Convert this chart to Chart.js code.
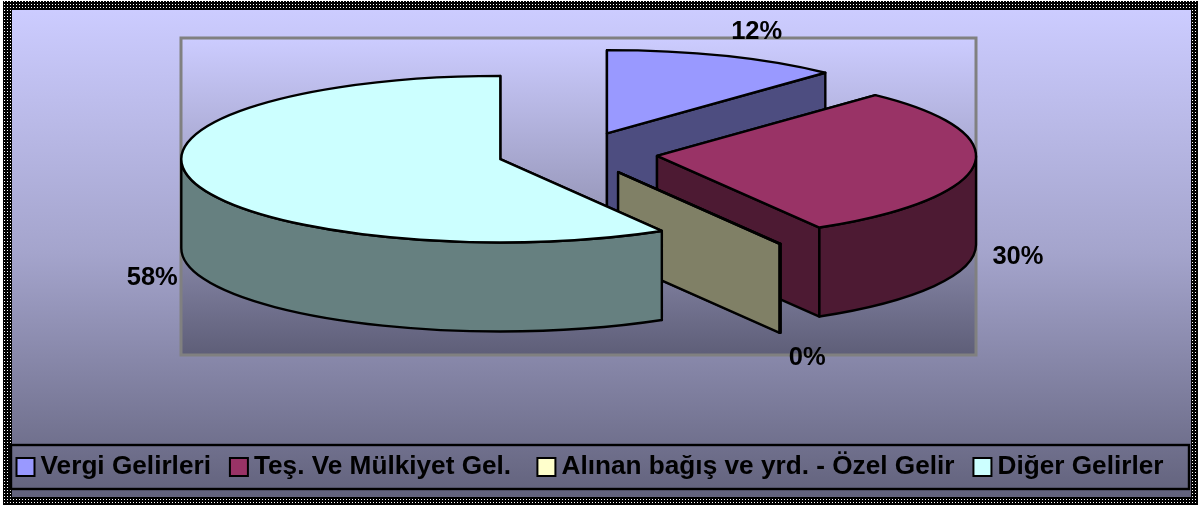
<!DOCTYPE html>
<html>
<head>
<meta charset="utf-8">
<title>Gelirler</title>
<style>
  html, body { margin: 0; padding: 0; background: #fff; }
  canvas { display: block; }
</style>
<script src="https://cdn.jsdelivr.net/npm/chart.js@4/dist/chart.umd.min.js"></script>
</head>
<body>
<canvas id="myChart" width="1198" height="506"></canvas>
<script>
const categories = ["Vergi Gelirleri", "Teş. Ve Mülkiyet Gel. ", "Alınan bağış ve yrd. - Özel Gelir", "Diğer Gelirler"];
const shares = [12, 29.5, 0.05, 58.45];
const sliceColors = ["#9999ff", "#993366", "#ffffcc", "#ccffff"];
const wallColors = ["#4d4d80", "#4d1a33", "#808066", "#668080"];
const labelNudge = [[5, 3], [-1, 0], [-5, 0], [4, 0]];

const TILT = 0.261; // squash of the pie, 3d look
const OFFSET_TILT = 0.27;
const DEPTH = 89;
const FONT = "bold 25.5px 'Liberation Sans', Arial, sans-serif";

// black frame with white dots
function framePattern(ctx) {
  const tile = document.createElement("canvas");
  tile.width = 3;
  tile.height = 3;
  const t = tile.getContext("2d");
  t.fillStyle = "#000";
  t.fillRect(0, 0, 3, 3);
  t.fillStyle = "#fff";
  t.fillRect(1, 1, 1, 1);
  return ctx.createPattern(tile, "repeat");
}

function fade(ctx, top, bottom, stops) {
  const g = ctx.createLinearGradient(0, top, 0, bottom);
  stops.forEach((s) => g.addColorStop(s[0], s[1]));
  return g;
}

function drawSlice(ctx, arc, index) {
  const a0 = arc.startAngle, a1 = arc.endAngle, r = arc.outerRadius;
  const mid = (a0 + a1) / 2;
  const cx = arc.x + Math.cos(mid) * arc.options.offset;
  const cy = arc.y - DEPTH / 2 + Math.sin(mid) * arc.options.offset * OFFSET_TILT;
  const rimX = (a) => cx + Math.cos(a) * r;
  const rimY = (a) => cy + Math.sin(a) * r * TILT;

  ctx.lineWidth = 2.4;
  ctx.lineJoin = "round";
  ctx.strokeStyle = arc.options.borderColor;

  // cut faces
  ctx.fillStyle = wallColors[index];
  [a0, a1].forEach((a) => {
    ctx.beginPath();
    ctx.moveTo(cx, cy);
    ctx.lineTo(rimX(a), rimY(a));
    ctx.lineTo(rimX(a), rimY(a) + DEPTH);
    ctx.lineTo(cx, cy + DEPTH);
    ctx.closePath();
    ctx.fill();
    ctx.stroke();
  });

  // outer wall, only the part facing us
  const from = Math.max(a0, 0), to = Math.min(a1, Math.PI);
  if (to > from) {
    ctx.beginPath();
    ctx.ellipse(cx, cy, r, r * TILT, 0, from, to);
    ctx.lineTo(rimX(to), rimY(to) + DEPTH);
    ctx.ellipse(cx, cy + DEPTH, r, r * TILT, 0, to, from, true);
    ctx.closePath();
    ctx.fill();
    ctx.stroke();
  }

  // top face
  ctx.fillStyle = arc.options.backgroundColor;
  ctx.beginPath();
  ctx.moveTo(cx, cy);
  ctx.ellipse(cx, cy, r, r * TILT, 0, a0, a1);
  ctx.closePath();
  ctx.fill();
  ctx.stroke();
}

const pie3d = {
  id: "pie3d",
  afterLayout(chart) {
    // the pie sits in the grey box, not in the space left by the legend
    chart.chartArea = { left: 179, right: 976, top: 41, bottom: 355, width: 797, height: 314 };
  },
  beforeDraw(chart) {
    const ctx = chart.ctx;
    ctx.save();
    ctx.fillStyle = "#fff";
    ctx.fillRect(0, 0, chart.width, chart.height);
    ctx.fillStyle = framePattern(ctx);
    ctx.fillRect(3, 1, 1195, 504);
    ctx.fillStyle = fade(ctx, 10, 497, [[0, "#ccccff"], [0.5, "#a4a4cc"], [1, "#62627c"]]);
    ctx.fillRect(12, 10, 1179, 487);

    // plot box
    ctx.fillStyle = fade(ctx, 38, 355, [[0, "#ccccff"], [0.5, "#9c9cc0"], [1, "#5e5e78"]]);
    ctx.fillRect(181, 38, 795, 317);
    ctx.strokeStyle = "#808080";
    ctx.lineWidth = 3;
    ctx.strokeRect(181, 38, 795, 317);

    // legend box
    ctx.strokeStyle = "#000";
    ctx.lineWidth = 2.4;
    ctx.strokeRect(11, 445, 1178, 44);
    ctx.restore();
  },
  beforeDatasetDraw(chart, args) {
    const ctx = chart.ctx;
    ctx.save();
    args.meta.data.forEach((arc, i) => drawSlice(ctx, arc, i));
    ctx.restore();
    return false;
  },
  afterDatasetsDraw(chart) {
    const ctx = chart.ctx;
    const arcs = chart.getDatasetMeta(0).data;
    const total = shares.reduce((a, b) => a + b, 0);
    ctx.save();
    ctx.font = FONT;
    ctx.fillStyle = "#000";
    ctx.textAlign = "center";
    ctx.textBaseline = "middle";
    arcs.forEach((arc, i) => {
      const mid = (arc.startAngle + arc.endAngle) / 2;
      const off = arc.options.offset, r = arc.outerRadius;
      const cos = Math.cos(mid), sin = Math.sin(mid);
      const x = arc.x + cos * (off + r) + Math.sign(cos) * Math.sqrt(Math.abs(cos)) * 45;
      const y = arc.y - DEPTH / 2 + sin * (off + r) * TILT + (sin > -0.1 ? DEPTH : 0) + sin * 30;
      ctx.fillText(Math.round(shares[i] / total * 100) + "%", x + labelNudge[i][0], y + labelNudge[i][1]);
    });
    ctx.restore();
  },
};

const ctx = document.getElementById("myChart").getContext("2d");

const myChart = new Chart(ctx, {
  type: "pie",
  data: {
    labels: categories,
    datasets: [
      {
        data: shares,
        backgroundColor: sliceColors,
        borderColor: "#000",
        borderWidth: 2,
        offset: 80,
        radius: 319,
      },
    ],
  },
  plugins: [pie3d],
  options: {
    responsive: false,
    animation: false,
    events: [],
    layout: { padding: { left: -2.5, bottom: 16 } },
    plugins: {
      tooltip: { enabled: false },
      legend: {
        position: "bottom",
        align: "start",
        labels: {
          usePointStyle: true,
          pointStyle: "rect",
          boxWidth: 4,
          boxHeight: 18,
          padding: 26,
          color: "#000",
          font: { family: "'Liberation Sans', Arial, sans-serif", size: 26.2, weight: "bold" },
        },
      },
    },
  },
});
</script>
</body>
</html>
